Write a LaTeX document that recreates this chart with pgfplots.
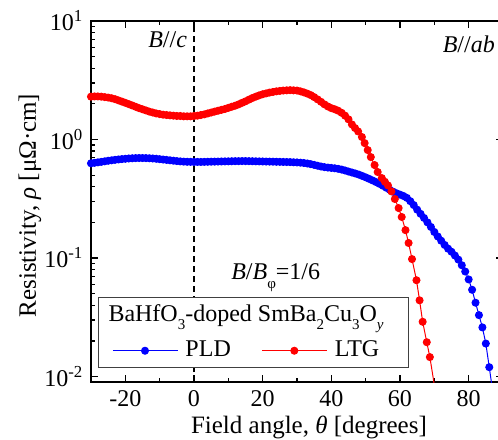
\documentclass[border=0pt]{standalone}
\usepackage{pgfplots}
\pgfplotsset{compat=1.18}
\usepackage{fontspec}
\setmainfont{Liberation Serif}

\newcommand\sub[1]{\raisebox{-8pt}{\fontsize{15}{15}\selectfont #1}}

\begin{document}
\fontsize{24}{29}\selectfont
\begin{tikzpicture}
\begin{axis}[
  width=412pt, height=361pt, scale only axis,
  xmin=-30, xmax=90,
  ymode=log, ymin=0.009, ymax=10,
  xtick={-20,0,20,40,60,80},
  xticklabels={-20,0,20,40,60,80},
  minor xtick={-30,-10,10,30,50,70,90},
  ytick={0.01,0.1,1,10},
  yticklabels={10\textsuperscript{-2},10\textsuperscript{-1},10\textsuperscript{0},10\textsuperscript{1}},
  minor ytick={0.02,0.03,0.04,0.05,0.06,0.07,0.08,0.09,
               0.2,0.3,0.4,0.5,0.6,0.7,0.8,0.9,
               2,3,4,5,6,7,8,9},
  tick align=inside,
  major tick length=7pt, minor tick length=4pt,
  every tick/.style={black, line width=1.2pt},
  axis line style={black, line width=1.5pt},
  tick label style={font=\fontsize{24}{29}\selectfont},
  xlabel={Field angle, \textit{θ} [degrees]},
  ylabel={Resistivity, \textit{ρ} [μΩ·cm]},
  xlabel style={at={(axis description cs:0.529,-0.1413)}, anchor=base, font=\fontsize{25}{30}\selectfont},
  ylabel style={at={(axis description cs:-0.1335,0.489)}, anchor=base, font=\fontsize{25}{30}\selectfont},
  legend columns=2,
  legend cell align=left,
  legend style={
    at={(axis description cs:0.017,0.2355)}, anchor=north west,
    draw=black!75, line width=1pt, fill=white,
    inner xsep=14pt, inner ysep=4pt,
    row sep=10pt,
    nodes={inner xsep=7pt, inner ysep=3pt},
    /tikz/every even column/.append style={column sep=24pt},
    font=\fontsize{24}{29}\selectfont,
  },
  legend image code/.code={\draw[mark repeat=2,mark phase=2,#1] plot coordinates {(0pt,0pt) (32pt,0pt) (65pt,0pt)};},
]

\addlegendimage{empty legend}
\addlegendentry{\rlap{\hspace*{-77pt}BaHfO\sub{3}-doped SmBa\sub{2}Cu\sub{3}O\sub{\textit{y}}}}
\addlegendimage{empty legend}
\addlegendentry{\hspace*{53pt}}

\draw[black, line width=1.2pt, dash pattern=on 6pt off 4pt] (axis cs:0,0.009) -- (axis cs:0,10);

\addplot[blue, line width=1pt, mark=*, mark size=3.5pt, mark options={fill=blue, draw=blue}] table {
x y
-30 0.630
-29 0.636
-28 0.642
-27 0.648
-26 0.655
-25 0.662
-24 0.668
-23 0.674
-22 0.679
-21 0.684
-20 0.688
-19 0.692
-18 0.695
-17 0.697
-16 0.698
-15 0.698
-14 0.697
-13 0.695
-12 0.692
-11 0.688
-10 0.683
-9 0.678
-8 0.673
-7 0.668
-6 0.663
-5 0.658
-4 0.654
-3 0.651
-2 0.649
-1 0.648
0 0.647
1 0.647
2 0.647
3 0.648
4 0.649
5 0.650
6 0.651
7 0.652
8 0.653
9 0.654
10 0.655
11 0.656
12 0.657
13 0.657
14 0.658
15 0.658
16 0.657
17 0.656
18 0.655
19 0.654
20 0.653
21 0.652
22 0.651
23 0.650
24 0.649
25 0.648
26 0.647
27 0.646
28 0.645
29 0.643
30 0.641
31 0.638
32 0.634
33 0.628
34 0.620
35 0.611
36 0.601
37 0.592
38 0.585
39 0.580
40 0.576
41 0.572
42 0.566
43 0.558
44 0.548
45 0.537
46 0.527
47 0.517
48 0.506
49 0.493
50 0.480
51 0.466
52 0.452
53 0.438
54 0.423
55 0.408
56 0.392
57 0.377
58 0.363
59 0.352
60 0.343
61 0.334
62 0.322
63 0.302
64 0.280
65 0.256
66 0.236
67 0.218
68 0.200
69 0.183
70 0.166
71 0.152
72 0.140
73 0.129
74 0.120
75 0.113
76 0.105
77 0.097
78 0.087
79 0.077
80 0.066
81 0.054
82 0.042
83 0.033
84 0.026
85 0.019
86 0.012
87 0.0075
};
\addlegendentry{PLD}

\addplot[red, line width=1pt, mark=*, mark size=3.5pt, mark options={fill=red, draw=red}] table {
x y
-30 2.30
-29 2.31
-28 2.31
-27 2.30
-26 2.28
-25 2.26
-24 2.23
-23 2.19
-22 2.14
-21 2.09
-20 2.04
-19 1.99
-18 1.94
-17 1.89
-16 1.84
-15 1.80
-14 1.76
-13 1.72
-12 1.69
-11 1.66
-10 1.64
-9 1.62
-8 1.61
-7 1.60
-6 1.59
-5 1.58
-4 1.58
-3 1.57
-2 1.57
-1 1.57
0 1.58
1 1.59
2 1.61
3 1.63
4 1.66
5 1.69
6 1.72
7 1.75
8 1.78
9 1.81
10 1.85
11 1.89
12 1.93
13 1.98
14 2.04
15 2.10
16 2.17
17 2.24
18 2.30
19 2.36
20 2.41
21 2.45
22 2.49
23 2.52
24 2.55
25 2.57
26 2.59
27 2.60
28 2.61
29 2.60
30 2.59
31 2.55
32 2.50
33 2.44
34 2.37
35 2.28
36 2.18
37 2.08
38 1.98
39 1.90
40 1.84
41 1.80
42 1.75
43 1.68
44 1.59
45 1.48
46 1.34
46.9 1.25
47.8 1.17
48.9 1.05
49.7 0.933
50.6 0.815
51.5 0.711
52.6 0.609
53.5 0.532
54.7 0.473
55.6 0.440
56.5 0.410
57.5 0.365
58.5 0.315
59.6 0.264
60.5 0.222
61.6 0.172
62.5 0.134
63.5 0.098
64.8 0.065
65.7 0.044
66.6 0.029
67.8 0.0195
68.7 0.0146
70.0 0.0085
};
\addlegendentry{LTG}

\node[anchor=base east, inner sep=0pt] at (axis cs:-2,5.92) {\textit{B}//\textit{c}};
\node[anchor=base west, inner sep=0pt] at (axis cs:72.4,5.47) {\textit{B}//\textit{ab}};
\node[anchor=base west, inner sep=0pt] at (axis cs:10.8,0.0665) {\textit{B}/\textit{B}\raisebox{-9pt}{\fontsize{15}{15}\selectfont φ}=1/6};
\end{axis}
\pgfresetboundingbox
\path ([shift={(-91pt,-57pt)}]current axis.south west) rectangle ([shift={(-5pt,21pt)}]current axis.north east);
\end{tikzpicture}
\end{document}
